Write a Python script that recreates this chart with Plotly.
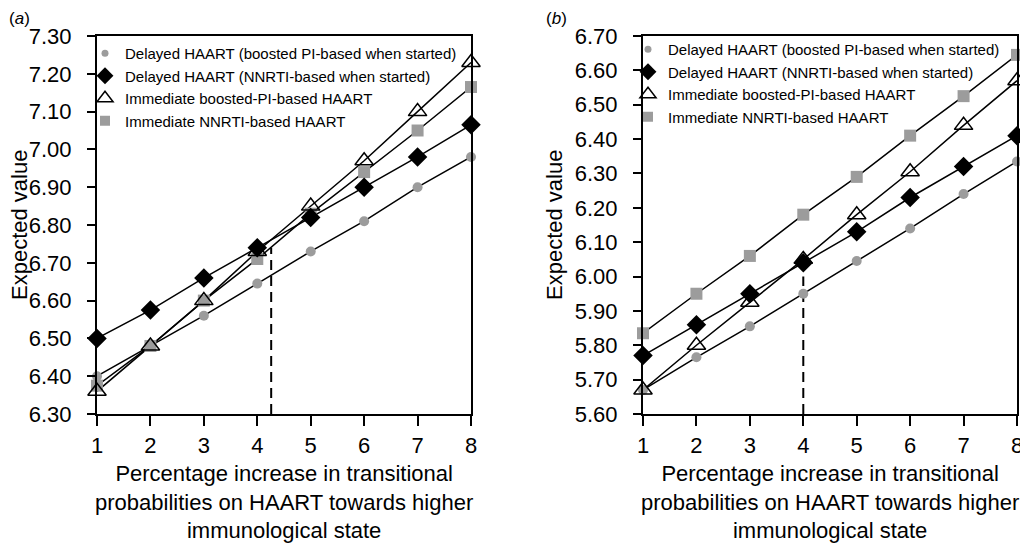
import plotly.graph_objects as go

# ---------------- data ----------------
x_vals = [1, 2, 3, 4, 5, 6, 7, 8]
x_ticks = [1, 2, 3, 4, 5, 6, 7, 8]

series_names = [
    "Delayed HAART (boosted PI-based when started)",
    "Delayed HAART (NNRTI-based when started)",
    "Immediate boosted-PI-based HAART",
    "Immediate NNRTI-based HAART",
]

# panel (a)
a_delayed_pi = [6.40, 6.48, 6.56, 6.645, 6.73, 6.81, 6.90, 6.98]
a_delayed_nnrti = [6.50, 6.575, 6.66, 6.74, 6.82, 6.90, 6.98, 7.065]
a_immediate_pi = [6.36, 6.48, 6.60, 6.73, 6.85, 6.97, 7.10, 7.23]
a_immediate_nnrti = [6.375, 6.48, 6.60, 6.71, 6.83, 6.94, 7.05, 7.165]
a_threshold_x = [4.26, 4.26]
a_threshold_y = [6.30, 6.74]
a_yticks = [6.30, 6.40, 6.50, 6.60, 6.70, 6.80, 6.90, 7.00, 7.10, 7.20, 7.30]

# panel (b)
b_delayed_pi = [5.67, 5.765, 5.855, 5.95, 6.045, 6.14, 6.24, 6.335]
b_delayed_nnrti = [5.77, 5.86, 5.95, 6.04, 6.13, 6.23, 6.32, 6.41]
b_immediate_pi = [5.67, 5.80, 5.925, 6.05, 6.18, 6.305, 6.44, 6.57]
b_immediate_nnrti = [5.835, 5.95, 6.06, 6.18, 6.29, 6.41, 6.525, 6.645]
b_threshold_x = [4, 4]
b_threshold_y = [5.60, 6.00]
b_yticks = [5.60, 5.70, 5.80, 5.90, 6.00, 6.10, 6.20, 6.30, 6.40, 6.50, 6.60, 6.70]

x_title = "Percentage increase in transitional<br>probabilities on HAART towards higher<br>immunological state"
y_title = "Expected value"

# ---------------- styling ----------------
FONT = "Liberation Sans, Arial, Helvetica, sans-serif"
GREY = "#9c9c9c"
BLACK = "#000000"
W, H = 1028, 545
OFF = 8  # page offset of the plot div (body margin)


def px2x(px):
    return (px - OFF) / W


def py2y(py):
    return 1 - (py - OFF) / H


fig = go.Figure()

marker_specs = [
    # symbol, plot size, legend size, colour, outline width
    ("circle", 10, 7, GREY, 0),
    ("diamond", 15, 13, BLACK, 0),
    ("triangle-up-open", 16, 14, BLACK, 1.5),
    ("square", 12, 10, GREY, 0),
]


def add_panel(xa, ya, legend, series, thr_x, thr_y):
    for ys in series:
        fig.add_trace(go.Scatter(
            x=x_vals, y=ys, mode="lines", xaxis=xa, yaxis=ya,
            line=dict(color=BLACK, width=1.5), showlegend=False,
            hoverinfo="skip", cliponaxis=False))
    fig.add_trace(go.Scatter(
        x=thr_x, y=thr_y, mode="lines", xaxis=xa, yaxis=ya,
        line=dict(color=BLACK, width=2, dash="10px,6px"),
        showlegend=False, hoverinfo="skip"))
    for k in [3, 0, 1, 2]:  # grey markers first, triangles on top
        sym, size, _, col, lw = marker_specs[k]
        fig.add_trace(go.Scatter(
            x=x_vals, y=series[k], mode="markers", xaxis=xa, yaxis=ya,
            name=series_names[k], showlegend=False, cliponaxis=False,
            marker=dict(symbol=sym, size=size, color=col,
                        line=dict(color=col, width=lw))))
    # legend entries
    for k in range(4):
        sym, _, lsize, col, lw = marker_specs[k]
        fig.add_trace(go.Scatter(
            x=[None], y=[None], mode="markers", xaxis=xa, yaxis=ya,
            name=series_names[k], legend=legend, legendrank=k + 1,
            marker=dict(symbol=sym, size=lsize, color=col,
                        line=dict(color=col, width=lw))))


add_panel("x", "y", "legend",
          [a_delayed_pi, a_delayed_nnrti, a_immediate_pi, a_immediate_nnrti],
          a_threshold_x, a_threshold_y)
add_panel("x2", "y2", "legend2",
          [b_delayed_pi, b_delayed_nnrti, b_immediate_pi, b_immediate_nnrti],
          b_threshold_x, b_threshold_y)

ydom = [py2y(414), py2y(36)]


def xaxis(dom, anchor):
    return dict(domain=dom, anchor=anchor, range=[1, 8], tickvals=x_ticks,
                showline=True, linecolor=BLACK, linewidth=2, mirror=True,
                ticks="outside", ticklen=10, tickwidth=2, tickcolor=BLACK,
                showgrid=False, zeroline=False, automargin=False,
                tickfont=dict(family=FONT, size=22, color=BLACK),
                ticklabelstandoff=1)


def yaxis(rng, ticks, anchor):
    return dict(domain=ydom, anchor=anchor, range=rng, tickvals=ticks,
                ticktext=[f"{t:.2f}" for t in ticks],
                showline=True, linecolor=BLACK, linewidth=2, mirror=True,
                ticks="outside", ticklen=8, tickwidth=2, tickcolor=BLACK,
                showgrid=False, zeroline=False, automargin=False,
                tickfont=dict(family=FONT, size=22, color=BLACK),
                ticklabelstandoff=11)


legend_common = dict(bgcolor="rgba(0,0,0,0)", borderwidth=0,
                     font=dict(family=FONT, size=15, color=BLACK),
                     xanchor="left", yanchor="top", tracegroupgap=0,
                     itemsizing="trace", traceorder="normal")

fig.update_layout(
    width=W, height=H,
    margin=dict(l=0, r=0, t=0, b=0, autoexpand=False),
    paper_bgcolor="white", plot_bgcolor="white",
    font=dict(family=FONT, color=BLACK),
    xaxis=xaxis([px2x(97), px2x(471)], "y"),
    yaxis=yaxis([6.30, 7.30], a_yticks, "x"),
    xaxis2=xaxis([px2x(643), px2x(1017)], "y2"),
    yaxis2=yaxis([5.60, 6.70], b_yticks, "x2"),
    legend=dict(x=px2x(85), y=py2y(37), **legend_common),
    legend2=dict(x=px2x(628), y=py2y(33), **legend_common),
    showlegend=True,
)

annotations = [
    dict(text="(<i>a</i>)", x=px2x(8), y=py2y(8), xanchor="left",
         yanchor="top", font=dict(size=17), borderpad=0),
    dict(text="(<i>b</i>)", x=px2x(545), y=py2y(8), xanchor="left",
         yanchor="top", font=dict(size=17), borderpad=0),
    dict(text=y_title, x=px2x(20), y=py2y(225), textangle=-90,
         xanchor="center", yanchor="middle", font=dict(size=22)),
    dict(text=y_title, x=px2x(555), y=py2y(225), textangle=-90,
         xanchor="center", yanchor="middle", font=dict(size=22)),
    dict(text=x_title, x=px2x(284), y=py2y(459), xanchor="center",
         yanchor="top", font=dict(size=22)),
    dict(text=x_title, x=px2x(830), y=py2y(459), xanchor="center",
         yanchor="top", font=dict(size=22)),
]
for an in annotations:
    an.update(xref="paper", yref="paper", showarrow=False)
    an["font"].update(family=FONT, color=BLACK)
fig.update_layout(annotations=annotations)

fig.write_html("out.html")
